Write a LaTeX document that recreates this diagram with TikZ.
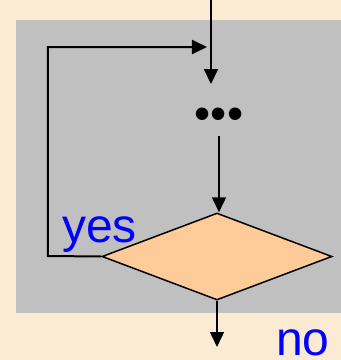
\documentclass[tikz,border=0pt]{standalone}
\usepackage{fontspec}
\setmainfont{Liberation Sans}
\usetikzlibrary{shapes.geometric,arrows.meta}
\definecolor{parch}{HTML}{FBEBD2}
\definecolor{panel}{HTML}{C0C0C0}
\definecolor{peach}{HTML}{FFCC99}
\definecolor{lblue}{HTML}{0000FF}
\tikzset{
  flow/.style={line width=1.5pt, draw=black},
  tip/.style={-{Triangle[length=15pt,width=14pt]}},
  lbl/.style={text=lblue, font=\fontsize{48}{52}\selectfont, inner sep=0pt, anchor=base west},
}
\begin{document}
\begin{tikzpicture}[x=1pt,y=-1pt]
  \useasboundingbox (0,0) rectangle (341,360);
  \fill[parch] (0,0) rectangle (341,360);
  \fill[panel] (16,20) rectangle (341,313);
  \node[diamond, draw=black, line width=1.5pt, fill=peach, minimum width=230pt, minimum height=87pt, inner sep=0pt] (dec) at (217,256.5) {};
  \node[inner sep=0pt, font=\fontsize{46}{50}\selectfont] (dots) at (219,119) {•••};
  \coordinate (in) at (211,0);
  \coordinate (intip) at (211,84);
  \coordinate (corner) at (48,256);
  \coordinate (looptip) at (207,47);
  \coordinate (out) at (217,347);
  \coordinate (dotsout) at (219,136);
  \draw[flow, line width=2pt, tip] (in) -- (intip);
  \draw[flow, line width=2pt, tip] (dec.west) -- (corner) |- (looptip);
  \draw[flow, tip] (dotsout) -- (dotsout |- dec.north);
  \draw[flow, tip] (dec.south) -- (out);
  \node[lbl] (yes) at (62,242) {yes};
  \node[lbl] (no) at (276,355) {no};
\end{tikzpicture}
\end{document}
